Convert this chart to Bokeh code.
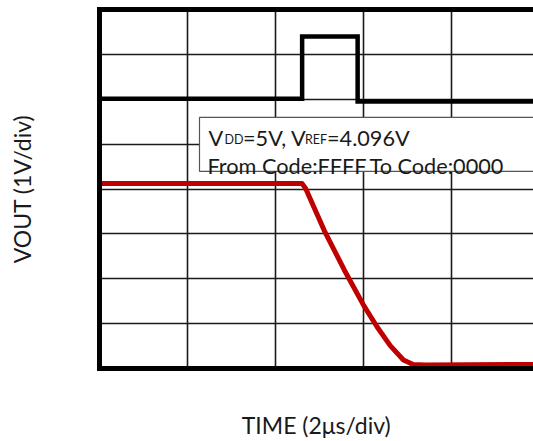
from bokeh.plotting import figure
from bokeh.models import FixedTicker, Label, LinearAxis
from bokeh.embed import file_html
from bokeh.resources import INLINE

# ---- data (in scope divisions) ----
trig_time = [0.0, 2.30, 2.30, 2.93, 2.93, 4.93]
trig_level = [6.01, 6.01, 7.40, 7.40, 5.95, 5.95]

vout_time = [0.0, 2.30, 2.34, 2.55, 2.78, 3.00, 3.15, 3.30, 3.45, 3.56, 3.70, 4.93]
vout_level = [4.12, 4.12, 4.01, 3.08, 2.19, 1.40, 0.93, 0.51, 0.19, 0.09, 0.08, 0.09]

x_grid_ticks = [1, 2, 3, 4]
y_grid_ticks = [1, 2, 3, 4, 5, 6, 7]

x_label = "TIME (2\u03bcs/div)"
y_label = "VOUT (1V/div)"

FONT = "Lato"
TXT = "#1a1a1a"

# frame geometry (pixels)
L, T, B = 99, 9, 370
XPX = 88.1
YPX = (B - T) / 8.0


def X(px):
    return (px - L) / XPX


def Y(py):
    return (B - py) / YPX


p = figure(width=533, height=441, output_backend="svg", toolbar_location=None,
           x_range=(0, (533 - L) / XPX), y_range=(0, 8),
           min_border_left=L, min_border_right=0, min_border_top=T,
           min_border_bottom=441 - B)
p.outline_line_color = None
p.background_fill_color = "white"
p.border_fill_color = "white"

for ax in (p.xaxis[0], p.yaxis[0]):
    ax.ticker = FixedTicker(ticks=[])
    ax.major_label_text_font_size = "0px"
    ax.major_label_standoff = 0
    ax.major_tick_line_color = None
    ax.minor_tick_line_color = None
    ax.axis_line_width = 5
    ax.axis_line_color = "black"
    ax.axis_line_cap = "square"
    ax.axis_label_text_font = FONT
    ax.axis_label_text_font_size = "23px"
    ax.axis_label_text_font_style = "normal"
    ax.axis_label_text_color = TXT

p.xaxis.axis_label = x_label
p.yaxis.axis_label = y_label
p.xaxis.axis_label_standoff = 42
p.yaxis.axis_label_standoff = 64

top = LinearAxis(ticker=FixedTicker(ticks=[]), major_label_text_font_size="0px",
                 major_label_standoff=0, major_tick_line_color=None,
                 minor_tick_line_color=None, axis_line_width=5,
                 axis_line_color="black", axis_line_cap="square")
p.add_layout(top, "above")

p.xgrid.ticker = FixedTicker(ticks=x_grid_ticks)
p.ygrid.ticker = FixedTicker(ticks=y_grid_ticks)
for g in (p.xgrid[0], p.ygrid[0]):
    g.grid_line_color = "#1a1a1a"
    g.grid_line_width = 1.6
    g.grid_line_alpha = 1.0

p.line(trig_time, trig_level, line_color="black", line_width=4.5, line_join="miter")
p.line(vout_time, vout_level, line_color="#c00000", line_width=5, line_join="round")

# annotation box (extends past the right edge, as in the reference)
p.quad(left=[X(199)], right=[X(700)], top=[Y(117.5)], bottom=[Y(171.7)],
       fill_color="white", fill_alpha=1.0, line_color="#555555", line_width=1.2)

MAIN = 21.7
SUB = 12.5
pieces = [
    ("V", 208.0, MAIN, 138.7),
    ("DD", 224.0, SUB, 140.2),
    ("=5V, V", 242.5, MAIN, 138.7),
    ("REF", 304.5, SUB, 140.2),
    ("=4.096V", 326.5, MAIN, 138.7),
    ("From Code:FFFF", 207.0, MAIN, 166.5),
    ("To Code:0000", 369.0, MAIN, 166.5),
]
for txt, px, size, py in pieces:
    p.add_layout(Label(x=X(px), y=Y(py), text=txt, text_font=FONT,
                       text_font_size=f"{size}px", text_color=TXT,
                       text_baseline="alphabetic", text_align="left"))

open("out.html", "w").write(file_html(p, INLINE))
